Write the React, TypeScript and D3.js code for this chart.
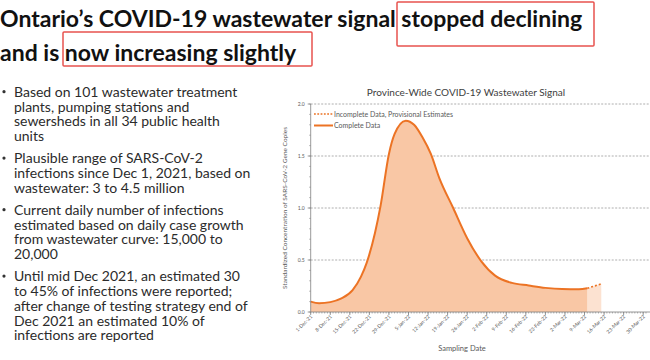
import React from "react";
import * as d3 from "d3";

const titleLine1 = "Ontario\u2019s COVID-19 wastewater signal ";
const titleBox1 = "stopped declining";
const titleLine2 = "and is ";
const titleBox2 = "now increasing slightly";

const bullets: string[][] = [
  ["Based on 101 wastewater treatment", "plants, pumping stations and", "sewersheds in all 34 public health", "units"],
  ["Plausible range of SARS-CoV-2", "infections since Dec 1, 2021, based on", "wastewater: 3 to 4.5 million"],
  ["Current daily number of infections", "estimated based on daily case growth", "from wastewater curve: 15,000 to", "20,000"],
  ["Until mid Dec 2021, an estimated 30", "to 45% of infections were reported;", "after change of testing strategy end of", "Dec 2021 an estimated 10% of", "infections are reported"],
];

const completeDates = [
  "2021-12-01", "2021-12-04", "2021-12-08", "2021-12-12", "2021-12-16", "2021-12-19",
  "2021-12-21", "2021-12-24", "2021-12-26", "2021-12-29", "2021-12-31", "2022-01-04",
  "2022-01-07", "2022-01-10", "2022-01-13", "2022-01-16", "2022-01-21", "2022-01-26",
  "2022-01-31", "2022-02-05", "2022-02-11", "2022-02-17", "2022-02-23", "2022-03-01",
  "2022-03-07", "2022-03-10",
];
const completeValues = [
  0.10, 0.085, 0.095, 0.13, 0.21, 0.34,
  0.47, 0.76, 1.02, 1.52, 1.71, 1.84,
  1.80, 1.68, 1.52, 1.29, 1.0, 0.71,
  0.49, 0.35, 0.28, 0.255, 0.232, 0.22,
  0.218, 0.228,
];
const incompleteDates = ["2022-03-10", "2022-03-12", "2022-03-15"];
const incompleteValues = [0.228, 0.245, 0.27];

const tickDates = [
  "2021-12-01", "2021-12-08", "2021-12-15", "2021-12-22", "2021-12-29", "2022-01-05",
  "2022-01-12", "2022-01-19", "2022-01-26", "2022-02-02", "2022-02-09", "2022-02-16",
  "2022-02-23", "2022-03-02", "2022-03-09", "2022-03-16", "2022-03-23", "2022-03-30",
];
const yTicks = [0, 0.5, 1.0, 1.5, 2.0];

const chartTitle = "Province-Wide COVID-19 Wastewater Signal";
const yAxisTitle = "Standardized Concentration of SARS-CoV-2 Gene Copies";
const xAxisTitle = "Sampling Date";
const legendIncomplete = "Incomplete Data, Provisional Estimates";
const legendComplete = "Complete Data";

const parse = d3.utcParse("%Y-%m-%d");
const fmt = d3.utcFormat("%-d-%b-%y");

const ORANGE = "#EC7324";
const FILL = "#F9C7A5";
const FILL_LIGHT = "#FCE2D1";
const GRAY = "#7f7f7f";

export default function App() {
  const x = d3
    .scaleUtc()
    .domain([parse("2021-12-01")!, parse("2022-04-01")!])
    .range([310.7, 310.7 + 121 * 2.794]);
  const y = d3.scaleLinear().domain([0, 2]).range([312, 104]);

  const complete = completeDates.map((d, i) => ({ d: parse(d)!, v: completeValues[i] }));
  const incomplete = incompleteDates.map((d, i) => ({ d: parse(d)!, v: incompleteValues[i] }));

  const line = d3
    .line<{ d: Date; v: number }>()
    .x((p) => x(p.d))
    .y((p) => y(p.v))
    .curve(d3.curveMonotoneX);
  const area = d3
    .area<{ d: Date; v: number }>()
    .x((p) => x(p.d))
    .y0(y(0))
    .y1((p) => y(p.v))
    .curve(d3.curveMonotoneX);

  const dailyTicks = d3.utcDay.range(parse("2021-12-01")!, parse("2022-04-01")!);
  const minorY = d3.range(0, 2.0001, 0.1);

  const x0 = x.range()[0];
  const x1 = 650;

  const font = "Lato, 'Open Sans', sans-serif";

  let bulletY = 96.7;
  const bulletEls: React.ReactNode[] = [];
  bullets.forEach((b, bi) => {
    bulletEls.push(
      <circle key={"dot" + bi} cx={4} cy={bulletY - 5} r={1.6} fill="#333" />
    );
    b.forEach((ln, li) => {
      bulletEls.push(
        <text key={bi + "-" + li} x={14} y={bulletY + li * 14.8} fontSize={14} fill="#2b2b2b" fontFamily={font}>
          {ln}
        </text>
      );
    });
    bulletY += b.length * 14.8 + 7.2;
  });

  return (
    <svg
      width={650}
      height={360}
      style={{ position: "absolute", left: 0, top: 0, background: "#fff" }}
      fontFamily={font}
    >
      <rect width={650} height={360} fill="#fff" />
      {/* Main title */}
      <text x={0} y={27} fontSize={23} fontWeight="bold" fill="#111" fontFamily={font}>
        {titleLine1}
        {titleBox1}
      </text>
      <text x={0} y={61} fontSize={23} fontWeight="bold" fill="#111" fontFamily={font}>
        {titleLine2}
        {titleBox2}
      </text>
      <rect x={397} y={2} width={197} height={44} fill="none" stroke="#E8534F" strokeWidth={1.5} rx={1} />
      <rect x={63} y={32} width={249} height={34} fill="none" stroke="#E8534F" strokeWidth={1.5} rx={1} />

      {/* Bullets */}
      {bulletEls}

      {/* Chart */}
      <text x={466} y={96} fontSize={10} textAnchor="middle" fill="#404040">
        {chartTitle}
      </text>

      {/* gridlines */}
      {yTicks.slice(1).map((t) => (
        <line key={"g" + t} x1={x0} x2={x1} y1={y(t)} y2={y(t)} stroke="#9a9a9a" strokeWidth={0.8} strokeDasharray="2,1.5" />
      ))}

      {/* areas */}
      <path d={area(incomplete) || ""} fill={FILL_LIGHT} />
      <path d={area(complete) || ""} fill={FILL} />
      <path d={line(complete) || ""} fill="none" stroke={ORANGE} strokeWidth={2} />
      <path d={line(incomplete) || ""} fill="none" stroke={ORANGE} strokeWidth={1.6} strokeDasharray="2,2" />

      {/* y axis */}
      <line x1={x0} x2={x0} y1={y(2)} y2={y(0)} stroke={GRAY} strokeWidth={0.8} />
      {minorY.map((t, i) => (
        <line key={"my" + i} x1={x0 - 1.5} x2={x0} y1={y(t)} y2={y(t)} stroke={GRAY} strokeWidth={0.6} />
      ))}
      {yTicks.map((t) => (
        <g key={"yt" + t}>
          <line x1={x0 - 3} x2={x0} y1={y(t)} y2={y(t)} stroke={GRAY} strokeWidth={0.8} />
          <text x={x0 - 6} y={y(t) + 1.8} fontSize={5} textAnchor="end" fill="#595959">
            {t.toFixed(1)}
          </text>
        </g>
      ))}

      {/* x axis */}
      <line x1={x0} x2={x1} y1={y(0)} y2={y(0)} stroke={GRAY} strokeWidth={0.8} />
      {dailyTicks.map((d, i) => (
        <line key={"dx" + i} x1={x(d)} x2={x(d)} y1={y(0)} y2={y(0) + 1.5} stroke={GRAY} strokeWidth={0.6} />
      ))}
      {tickDates.map((s) => {
        const d = parse(s)!;
        const px = x(d);
        return (
          <g key={"xt" + s}>
            <line x1={px} x2={px} y1={y(0)} y2={y(0) + 3} stroke={GRAY} strokeWidth={0.8} />
            <text
              transform={`translate(${px + 2},${y(0) + 5}) rotate(-45)`}
              fontSize={5}
              textAnchor="end"
              fill="#595959"
            >
              {fmt(d)}
            </text>
          </g>
        );
      })}

      <text x={462} y={351} fontSize={7.5} textAnchor="middle" fill="#595959">
        {xAxisTitle}
      </text>
      <text transform={`translate(287,208) rotate(-90)`} fontSize={6.5} textAnchor="middle" fill="#595959">
        {yAxisTitle}
      </text>

      {/* legend */}
      <line x1={314} x2={333} y1={114} y2={114} stroke={ORANGE} strokeWidth={1.4} strokeDasharray="1.8,1.5" />
      <text x={334} y={116.5} fontSize={7} fill="#595959">
        {legendIncomplete}
      </text>
      <line x1={314} x2={333} y1={125.5} y2={125.5} stroke={ORANGE} strokeWidth={2} />
      <text x={334} y={128} fontSize={7} fill="#595959">
        {legendComplete}
      </text>
    </svg>
  );
}
